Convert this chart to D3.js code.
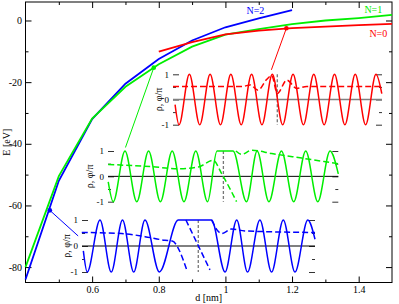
<!DOCTYPE html>
<html>
<head>
<meta charset="utf-8">
<script src="https://cdn.jsdelivr.net/npm/d3@7"></script>
<style>
body { margin: 0; background: #fff; }
text { font-family: "Liberation Serif", "Times New Roman", serif; }
</style>
</head>
<body>
<svg id="chart" width="399" height="304"></svg>
<script>
// E(d) curves for N=2, N=1, N=0
var dN2 = [0.4, 0.5, 0.6, 0.7, 0.8, 0.9, 1.0, 1.1, 1.2];
var eN2 = [-84, -52, -32, -20.5, -12.5, -6.5, -2.2, 0.7, 3.4];
var dN1 = [0.4, 0.5, 0.6, 0.7, 0.8, 0.9, 1.0, 1.1, 1.2, 1.3, 1.4, 1.5];
var eN1 = [-80, -50.5, -31.8, -21.5, -14.2, -8.5, -4.6, -2.8, -1.2, 0, 0.8, 1.8];
var dN0 = [0.8, 0.9, 1.0, 1.1, 1.2, 1.3, 1.4, 1.5];
var eN0 = [-10.1, -7.0, -4.5, -3.3, -2.5, -2.0, -1.5, -1.1];

var xTicks = [0.6, 0.8, 1, 1.2, 1.4];
var xMinor = [0.5, 0.7, 0.9, 1.1, 1.3];
var yTicks = [-80, -60, -40, -20, 0];
var yMinor = [-70, -50, -30, -10];
var curveNames = ["N=0", "N=1", "N=2"];
var labelD = [1.459, 1.444, 1.09];
var labelE = [-5.3, 2.4, 2.2];

// marked states (N=0, N=1, N=2) and where their connector meets the inset
var markD = [1.183, 0.785, 0.473];
var markE = [-2.5, -15.3, -61.6];
var anchorD = [1.138, 0.70, 0.558];
var anchorE = [-16.0, -41.2, -69.9];

// insets: density rho (solid) and phase phi/pi (dashed), x in lattice sites
var rho0x = [-0.69, -0.5, 0, 0.5, 1, 1.5, 2, 2.5, 3, 3.5, 4, 4.5, 5, 5.5, 6, 6.5, 7, 7.5, 8, 8.5, 9, 9.28];
var rho0y = [-0.2, -1, 1, -1, 1, -1, 1, -1, 1, -1, 1, -1, 1, -1, 1, -1, 1, -1, 1, -1, 1, 0.23];
var phi0x = [-0.79, 2.59, 2.93, 3.31, 3.73, 3.97, 4.24, 4.70, 5.18, 5.66, 9.29];
var phi0y = [0.52, 0.52, 0.58, 0.37, 0.8, 0.95, 0.24, 0.77, 0.44, 0.52, 0.52];

var rho1x = [-0.71, -0.5, 0, 0.5, 1, 1.5, 2, 2.5, 3, 3.5, 3.9, 4.58, 5.15, 5.6, 6.1, 6.63, 7.15, 7.66, 8.17, 8.69, 9.04];
var rho1y = [-0.22, -1, 1, -1, 1, -1, 1, -1, 1, -1, 1, 1, -1, 1, -1, 1, -1, 1, -1, 1, 0.1];
var phi1ax = [-0.71, 1.13, 2.26, 3.11, 3.74, 4.10, 4.73];
var phi1ay = [0.47, 0.38, 0.30, 0.37, 0.63, 0.1, -1.0];
var phi1bx = [4.70, 4.94, 5.37, 6.22, 7.49, 9.04];
var phi1by = [1.0, 0.87, 1.03, 0.9, 0.72, 0.5];

var rho2x = [-0.74, -0.57, 0, 0.5, 1, 1.5, 2, 2.64, 3.48, 4.96, 5.56, 6.08, 6.56, 7.11, 7.63, 8.15, 8.67, 9.24, 9.56];
var rho2y = [-0.19, -1, 1, -1, 1, -1, 1, -1, 1, 1, -1, 1, -1, 1, -1, 1, -1, 1, 0.26];
var phi2ax = [-0.81, 0.96, 2.0, 2.89, 3.21, 3.85];
var phi2ay = [0.52, 0.48, 0.36, 0.22, 0.19, -0.9];
var phi2bx = [3.82, 4.89];
var phi2by = [1.0, -0.92];
var phi2cx = [4.96, 5.41, 5.85, 6.44, 9.56];
var phi2cy = [1.0, 0.48, 0.65, 0.58, 0.52];

var vlineX = [4.24, 4.17, 4.37];
var insetTicks = [-1, 0, 1];
var insetMinor = [-0.5, 0.5];

var colors = ["#ff0000", "#00ee00", "#0000ff"];
var serif = "Liberation Serif, Times New Roman, serif";

var svg = d3.select("#chart");
var m = {l: 25.5, r: 392, t: 2, b: 282.5};
var x = d3.scaleLinear().domain([0.4, 1.5]).range([m.l, m.r]);
var y = d3.scaleLinear().domain([-85, 6]).range([m.b, m.t]);

function zip(a, b) { return a.map(function(v, i) { return [v, b[i]]; }); }

// axes, ticks inward on all four sides
function ticks(axis, vals, size, labels) {
    axis.tickValues(vals).tickSizeInner(size).tickSizeOuter(0);
    if (!labels) axis.tickFormat("");
    else axis.tickFormat(function(d) { return String(d); });
    return axis;
}
var gx = svg.append("g").attr("transform", "translate(0," + m.b + ")");
gx.call(ticks(d3.axisBottom(x), xTicks, -6, true).tickPadding(3.5));
gx.append("g").call(ticks(d3.axisBottom(x), xMinor, -3, false));
var gxt = svg.append("g").attr("transform", "translate(0," + m.t + ")");
gxt.call(ticks(d3.axisTop(x), xTicks, -6, false));
gxt.append("g").call(ticks(d3.axisTop(x), xMinor, -3, false));
var gy = svg.append("g").attr("transform", "translate(" + m.l + ",0)");
gy.call(ticks(d3.axisLeft(y), yTicks, -6, true).tickPadding(3.5));
gy.append("g").call(ticks(d3.axisLeft(y), yMinor, -3, false));
var gyr = svg.append("g").attr("transform", "translate(" + m.r + ",0)");
gyr.call(ticks(d3.axisRight(y), yTicks, -6, false));
gyr.append("g").call(ticks(d3.axisRight(y), yMinor, -3, false));
svg.selectAll(".domain").remove();
svg.selectAll("g").attr("font-family", serif);
svg.selectAll(".tick text").attr("font-size", 10).style("font-family", serif);

svg.append("rect")
    .attr("x", m.l).attr("y", m.t)
    .attr("width", m.r - m.l).attr("height", m.b - m.t)
    .attr("fill", "none").attr("stroke", "#000").attr("stroke-width", 1);

svg.append("text").attr("x", (m.l + m.r) / 2).attr("y", 301)
    .attr("text-anchor", "middle").attr("font-size", 10).text("d [nm]");
svg.append("text")
    .attr("transform", "translate(10," + (m.t + m.b) / 2 + ") rotate(-90)")
    .attr("text-anchor", "middle").attr("font-size", 10).text("E [eV]");

// main curves
var line = d3.line().x(function(d) { return x(d[0]); }).y(function(d) { return y(d[1]); });
var mainData = [zip(dN0, eN0), zip(dN1, eN1), zip(dN2, eN2)];
[2, 1, 0].forEach(function(i) {
    svg.append("path").datum(mainData[i])
        .attr("d", line).attr("fill", "none")
        .attr("stroke", colors[i]).attr("stroke-width", 1.8);
});
curveNames.forEach(function(n, i) {
    svg.append("text").attr("x", x(labelD[i])).attr("y", y(labelE[i]))
        .attr("text-anchor", "middle").attr("font-size", 10)
        .attr("fill", colors[i]).text(n);
});

// inset layout (pixel boxes)
var insets = [
    {l: 173, r: 382, t: 74.3, b: 124.7, dom: [-0.79, 9.29], zero: "#808080", lab: 11,
     rho: zip(rho0x, rho0y), phi: [zip(phi0x, phi0y)]},
    {l: 108, r: 338.3, t: 151, b: 201.7, dom: [-0.72, 9.04], zero: "#000", lab: 15,
     rho: zip(rho1x, rho1y), phi: [zip(phi1ax, phi1ay), zip(phi1bx, phi1by)]},
    {l: 82, r: 315, t: 220, b: 272, dom: [-0.8, 9.56], zero: "#000", lab: 12,
     rho: zip(rho2x, rho2y), phi: [zip(phi2ax, phi2ay), zip(phi2bx, phi2by), zip(phi2cx, phi2cy)]}
];

insets.forEach(function(ins, i) {
    var xi = d3.scaleLinear().domain(ins.dom).range([ins.l, ins.r]);
    var yi = d3.scaleLinear().domain([-1, 1]).range([ins.b, ins.t]);
    var g = svg.append("g");
    var li = d3.line().curve(d3.curveMonotoneX)
        .x(function(d) { return xi(d[0]); }).y(function(d) { return yi(d[1]); });

    // ticks on both sides
    var gl = g.append("g").attr("transform", "translate(" + ins.l + ",0)");
    gl.call(ticks(d3.axisLeft(yi), insetTicks, -6, true).tickPadding(4));
    gl.append("g").call(ticks(d3.axisLeft(yi), insetMinor, -3, false));
    var gr = g.append("g").attr("transform", "translate(" + ins.r + ",0)");
    gr.call(ticks(d3.axisRight(yi), insetTicks, -6, false));
    gr.append("g").call(ticks(d3.axisRight(yi), insetMinor, -3, false));
    g.selectAll(".domain").remove();
    g.selectAll(".tick line").attr("stroke", "#333");
    g.selectAll(".tick text").attr("font-size", 9).style("font-family", serif);

    g.append("text")
        .attr("transform", "translate(" + (ins.l - ins.lab) + "," + yi(0) + ") rotate(-90)")
        .attr("text-anchor", "middle").attr("font-size", 10).text("ρ, φ/π");

    g.append("line")
        .attr("x1", ins.l).attr("x2", ins.r).attr("y1", yi(0)).attr("y2", yi(0))
        .attr("stroke", ins.zero).attr("stroke-width", i === 0 ? 1.6 : 1);

    g.append("line")
        .attr("x1", xi(vlineX[i])).attr("x2", xi(vlineX[i]))
        .attr("y1", yi(1)).attr("y2", yi(-1))
        .attr("stroke", "#777").attr("stroke-width", 1.3).attr("stroke-dasharray", "3,2");

    g.append("path").datum(ins.rho).attr("d", li).attr("fill", "none")
        .attr("stroke", colors[i]).attr("stroke-width", 1.5);
    ins.phi.forEach(function(br) {
        g.append("path").datum(br).attr("d", li).attr("fill", "none")
            .attr("stroke", colors[i]).attr("stroke-width", 1.5)
            .attr("stroke-dasharray", "6,3");
    });
});

// connectors and marked points
markD.forEach(function(d, i) {
    svg.append("line")
        .attr("x1", x(d)).attr("y1", y(markE[i]))
        .attr("x2", x(anchorD[i])).attr("y2", y(anchorE[i]))
        .attr("stroke", colors[i]).attr("stroke-width", 1);
    svg.append("circle").attr("cx", x(d)).attr("cy", y(markE[i])).attr("r", 2.3)
        .attr("fill", colors[i]);
});
</script>
</body>
</html>
